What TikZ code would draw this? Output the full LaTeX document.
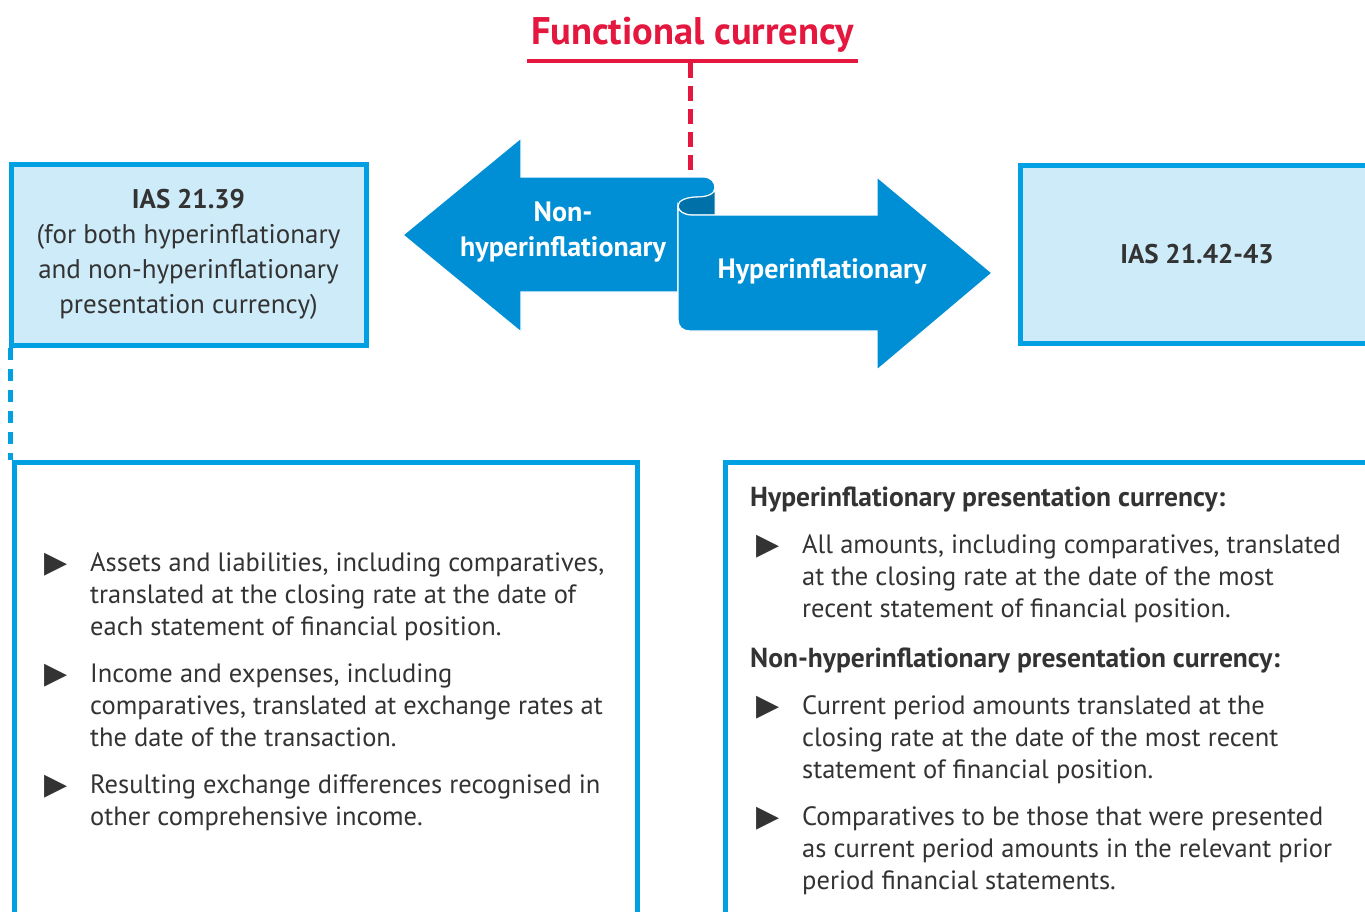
\documentclass[tikz,border=0pt]{standalone}
\usepackage{fontspec}
\setmainfont{PT Sans}
\newfontfamily\symfont{DejaVu Sans}
\definecolor{kblue}{HTML}{008FD5}
\definecolor{kdark}{HTML}{0070A8}
\definecolor{kline}{HTML}{00A0E3}
\definecolor{kfill}{HTML}{CDEBF8}
\definecolor{kred}{HTML}{E4173E}
\definecolor{ktext}{HTML}{333333}
\begin{document}
\begin{tikzpicture}[x=1pt,y=-1pt,
  body/.style={font=\fontsize{26.5}{32}\selectfont, text=ktext, inner sep=0, anchor=base west, align=left},
  head/.style={font=\bfseries\fontsize{27.5}{32}\selectfont, text=ktext, inner sep=0, anchor=base west},
  bul/.style={font=\symfont\fontsize{30}{30}\selectfont, text=ktext, inner sep=0, anchor=base west},
  topbox/.style={draw=kline, line width=5pt, fill=kfill, font=\fontsize{27}{35}\selectfont, text=ktext, align=center, inner sep=0},
  lowbox/.style={draw=kline, line width=4.5pt, inner sep=0},
  arrowbody/.style={fill=kblue, draw=white, line width=1.2pt, line join=miter},
  arrowtxt/.style={text=white, font=\bfseries\fontsize{28}{35}\selectfont, align=center, inner sep=0},
  reddash/.style={draw=kred, line width=5pt, dash pattern=on 15pt off 8pt},
  bluedash/.style={draw=kline, line width=5pt, dash pattern=on 12pt off 9pt}
]
\useasboundingbox (0,0) rectangle (1365,911);
\fill[white] (0,0) rectangle (1365,911);

% title
\node[text=kred, font=\bfseries\fontsize{38.5}{44}\selectfont, inner sep=0] (title) at (692.5,35) {Functional currency};
\coordinate (ul1) at (527,61);
\coordinate (ul2) at (858,61);
\draw[kred, line width=4pt] (ul1) -- (ul2);
\coordinate (redtop) at (690,63);
\coordinate (redbot) at (690,178);

% top boxes
\node[topbox, minimum width=355pt, minimum height=181pt] (b1) at (188.5,254.5)
  {\textbf{IAS 21.39}\\(for both hyperinflationary\\and non-hyperinflationary\\presentation currency)};
\node[topbox, minimum width=354pt, minimum height=178pt] (b2) at (1197,254)
  {\textbf{IAS 21.42-43}};

% lower boxes
\node[lowbox, minimum width=623pt, minimum height=520pt, anchor=north west] (b3) at (12,460) {};
\node[lowbox, minimum width=680pt, minimum height=520pt, anchor=north west] (b4) at (723,460) {};

% connectors
\draw[reddash] (redtop) -- (redbot);
\draw[bluedash] ([xshift=1.5pt]b1.south west) -- ([xshift=1.5pt]b1.south west |- b3.north);

% left arrow
\path[arrowbody] (403,235) -- (521,138) -- (521,177) -- (703,177)
  .. controls (711,177) and (715,182) .. (715,188)
  .. controls (715,194) and (707,197) .. (698,197)
  .. controls (688,197) and (678,200) .. (678,206)
  -- (678,292) -- (521,292) -- (521,332) -- cycle;
% curl back side
\path[fill=kdark, draw=white, line width=1pt] (715,188) -- (715,215) -- (692,215)
  .. controls (684,215) and (678,211) .. (678,206)
  .. controls (678,200) and (688,197) .. (698,197)
  .. controls (707,197) and (715,194) .. (715,188) -- cycle;
% right arrow
\path[arrowbody] (678,206) .. controls (678,211) and (684,215) .. (692,215)
  -- (877,215) -- (877,177) -- (992,273) -- (877,370) -- (877,331)
  -- (690,331) .. controls (683,331) and (678,327) .. (678,320) -- cycle;

\node[arrowtxt] (tnon) at (563,232) {Non-\\hyperinflationary};
\node[arrowtxt] (thyp) at (822,271) {Hyperinflationary};

% left lower content (base anchor = last line)
\node[bul] (l1b) at (44,572) {▶};
\node[body] (l1) at (90,635) {Assets and liabilities, including comparatives,\\translated at the closing rate at the date of\\each statement of financial position.};
\node[bul] (l2b) at (44,683) {▶};
\node[body] (l2) at (90,746) {Income and expenses, including\\comparatives, translated at exchange rates at\\the date of the transaction.};
\node[bul] (l3b) at (44,794) {▶};
\node[body] (l3) at (90,825) {Resulting exchange differences recognised in\\other comprehensive income.};

% right lower content
\node[head] (h1) at (750,506) {Hyperinflationary presentation currency:};
\node[bul] (r1b) at (756,554) {▶};
\node[body] (r1) at (802,617) {All amounts, including comparatives, translated\\at the closing rate at the date of the most\\recent statement of financial position.};
\node[head] (h2) at (750,667) {Non-hyperinflationary presentation currency:};
\node[bul] (r2b) at (756,715) {▶};
\node[body] (r2) at (802,778) {Current period amounts translated at the\\closing rate at the date of the most recent\\statement of financial position.};
\node[bul] (r3b) at (756,826) {▶};
\node[body] (r3) at (802,889) {Comparatives to be those that were presented\\as current period amounts in the relevant prior\\period financial statements.};
\end{tikzpicture}
\end{document}
